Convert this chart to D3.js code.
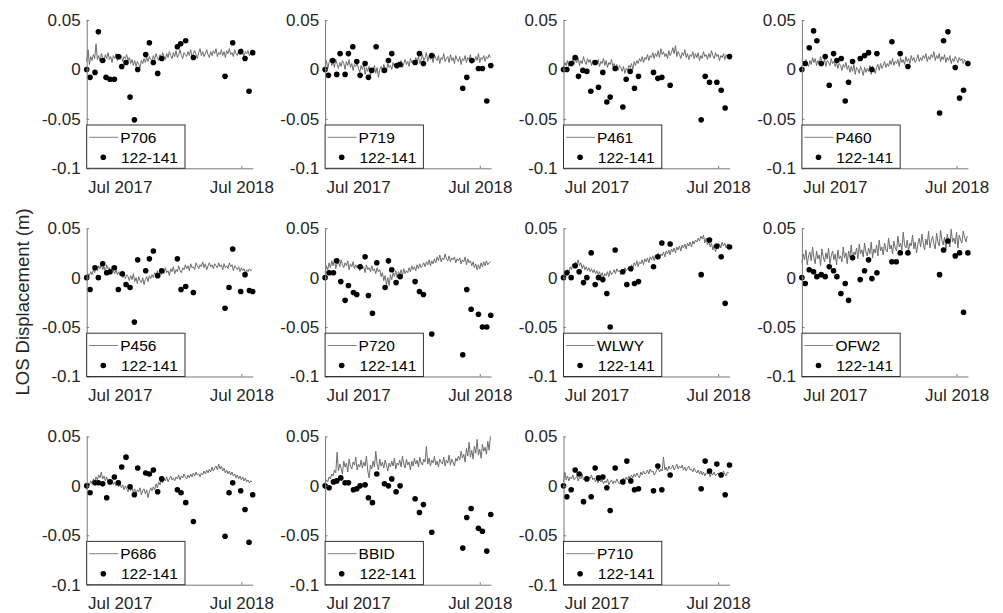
<!DOCTYPE html>
<html>
<head>
<meta charset="utf-8">
<script src="https://cdn.jsdelivr.net/npm/d3@7"></script>
<style>
  body { margin: 0; background: #fff; }
  svg { display: block; font-family: "Liberation Sans", Arial, Helvetica, sans-serif; }
</style>
</head>
<body>
<div id="chart"></div>
<script>
// stations, in subplot order
var stations = ["P706", "P719", "P461", "P460", "P456", "P720", "WLWY", "OFW2", "P686", "BBID", "P710"];
var trackName = "122-141";

// x: days after the first acquisition, y: displacement in mm
var startDate = new Date(2017, 2, 24);
var lastDay = 498;
var gpsStep = 4;  // one GPS value every 4 days

var yTicks = [-0.1, -0.05, 0, 0.05];
var xTicks = [new Date(2017, 6, 1), new Date(2018, 6, 1)];
var xTickLabels = ["Jul 2017", "Jul 2018"];

// GPS LOS series (mm), 25 values per line = 100 days
var gpsP706 = [8,20,5,13,9,15,11,26,10,14,8,16,12,9,15,11,17,10,13,7,14,11,16,9,12,
  10,14,8,13,11,15,9,12,6,10,4,9,3,8,5,2,9,6,11,7,12,8,13,10,9,
  14,10,16,12,9,15,11,17,13,10,16,12,18,14,11,17,13,19,12,15,20,14,11,17,15,
  13,18,14,20,12,16,19,15,11,17,21,14,18,13,16,20,15,12,18,14,19,16,21,13,17,
  15,20,14,18,12,19,16,21,15,17,13,20,16,14,19,15,21,17,13,18,16,19,14,17,16];
var gpsP719 = [3,9,1,7,11,4,8,2,10,5,1,7,3,9,6,0,8,4,10,2,6,-1,5,3,7,
  1,-3,4,0,6,-5,2,-2,3,-6,1,-1,4,-4,2,-8,0,3,-3,5,1,-2,6,2,4,
  0,7,3,5,1,8,4,9,2,6,10,5,8,3,11,7,9,5,12,8,13,6,10,15,9,
  12,17,8,14,10,13,7,15,11,9,14,6,12,10,16,8,11,13,7,15,9,12,6,14,10,
  8,13,5,11,9,14,7,12,10,15,6,11,8,13,9,16,7,12,10,14,8,13,11,15,12];
var gpsP461 = [2,7,4,9,3,8,6,11,5,10,7,12,4,9,6,13,8,5,11,7,10,4,9,6,8,
  5,10,3,8,6,11,4,9,2,7,5,10,3,6,1,5,-1,4,2,-2,3,-4,1,-1,4,
  2,6,0,8,4,9,6,11,8,13,7,12,10,15,9,14,12,17,11,16,13,19,12,21,15,
  18,13,16,11,19,14,17,22,16,24,13,18,15,11,17,14,20,12,16,10,15,13,18,11,16,
  12,17,9,14,11,18,13,15,10,16,12,19,14,11,17,13,15,9,14,12,16,10,15,13,12];
var gpsP460 = [2,8,4,10,6,3,9,5,12,7,11,4,9,6,13,8,5,10,3,9,7,4,11,6,8,
  3,7,1,6,4,-1,5,2,7,0,4,-3,3,-2,5,-5,2,0,-4,3,-1,-6,2,-3,1,
  -2,4,-5,3,0,-4,2,5,-1,6,1,4,8,2,6,3,9,5,11,4,8,6,10,3,12,
  7,10,5,13,8,11,6,14,9,12,7,10,15,8,12,9,14,11,16,8,13,10,15,12,18,
  9,14,11,16,8,13,10,15,7,12,9,14,6,11,8,13,10,7,12,9,11,6,10,8,7];
var gpsP456 = [1,4,2,6,3,8,5,10,7,12,9,14,8,11,6,13,9,10,5,11,7,4,8,3,6,
  2,5,0,4,-1,3,1,-3,2,-2,4,-4,0,-6,1,-3,-5,0,-7,-2,1,-4,2,-1,3,
  0,5,2,7,1,6,3,8,4,10,5,7,2,9,6,11,4,8,6,12,7,5,10,8,13,
  9,12,7,14,10,11,8,15,12,9,13,11,16,10,14,8,12,15,11,13,9,14,12,10,15,
  11,13,8,14,10,12,9,15,11,13,7,12,10,8,11,6,10,7,9,5,8,6,9,7,8];
var gpsP720 = [5,12,8,15,10,17,12,19,9,14,16,11,18,13,10,15,12,17,8,14,11,16,9,13,10,
  12,7,14,9,11,5,13,8,10,6,12,7,9,4,10,6,8,1,5,-3,2,-7,0,-8,3,
  -2,5,1,7,0,6,3,8,2,9,4,7,5,10,6,12,8,11,7,13,9,14,10,12,15,
  11,16,13,18,12,17,14,19,15,21,17,23,16,20,18,24,19,17,22,16,20,18,21,15,19,
  17,20,14,18,16,21,13,19,15,17,12,16,10,14,8,13,9,15,11,16,12,17,13,15,16];
var gpsWLWY = [2,6,3,8,5,11,8,14,10,16,13,18,12,15,9,13,8,11,7,10,6,9,5,8,4,
  7,3,6,1,5,0,4,2,6,1,7,3,5,8,4,9,6,7,3,8,5,10,7,9,11,
  8,13,10,15,12,17,11,16,14,18,13,19,16,20,15,21,18,22,17,23,20,25,19,24,22,
  26,21,27,24,28,23,29,26,30,25,31,28,32,27,33,30,34,29,35,32,36,31,37,34,38,
  36,40,37,42,39,43,35,40,33,37,31,35,28,33,26,31,29,34,30,36,32,35,30,34,33];
var gpsOFW2 = [15,24,18,28,13,22,26,17,31,20,14,27,19,23,12,29,21,16,25,19,30,14,22,27,18,
  24,13,28,19,22,16,31,20,25,14,27,21,33,18,26,23,30,19,34,24,28,21,35,26,22,
  30,24,36,20,29,25,33,22,38,27,31,23,35,28,26,40,29,33,24,37,30,27,42,31,35,
  28,46,33,30,38,27,35,32,43,29,36,25,34,40,31,44,35,28,39,33,47,30,37,42,34,
  29,45,36,32,48,38,33,41,28,44,37,31,49,36,40,34,46,30,43,38,35,47,41,36,42];
var gpsP686 = [0,3,1,5,2,7,4,9,6,11,8,14,7,10,5,9,4,7,2,6,1,4,0,3,-1,
  2,-2,1,-4,0,-3,-6,-1,-5,-2,-7,-3,-8,-4,-6,-2,-9,-5,-3,-8,-4,-12,-6,-2,-5,
  -1,-4,2,-2,4,1,6,3,8,5,9,4,7,10,6,8,5,9,7,11,6,10,8,12,9,
  7,11,8,12,9,13,10,14,11,12,9,13,11,15,12,16,13,17,14,19,15,18,20,16,22,
  17,20,15,18,13,16,12,15,11,14,10,12,8,11,7,10,6,9,5,8,4,6,3,5,4];
var gpsBBID = [3,6,4,9,7,12,10,16,13,34,15,22,18,12,25,19,23,14,27,20,17,24,21,29,16,
  22,19,26,18,24,20,30,15,8,21,17,25,19,35,22,16,27,20,24,18,26,21,15,23,19,
  25,20,28,17,23,21,26,19,30,22,18,27,21,24,16,25,20,28,22,26,19,29,23,21,27,
  24,40,22,28,20,26,23,30,21,25,19,27,24,22,29,20,26,23,31,21,27,24,20,28,25,
  30,26,35,28,32,24,38,30,44,29,36,27,40,33,47,31,37,28,42,35,39,32,45,36,50];
var gpsP710 = [4,14,6,10,5,9,7,11,6,8,10,5,9,7,12,6,8,10,5,9,7,11,6,8,4,
  7,3,8,4,6,2,5,3,7,1,4,6,2,5,3,7,4,2,6,3,8,5,9,6,10,
  7,11,8,12,9,13,10,8,14,11,15,12,13,16,12,17,14,15,11,13,16,18,14,17,15,
  29,16,19,15,20,17,18,21,16,19,22,17,20,18,21,16,19,15,18,20,16,17,14,18,15,
  13,16,12,15,11,14,10,13,12,15,9,13,11,14,10,12,13,9,14,11,15,12,10,14,13];

// InSAR track 122-141 points: [day, mm]
var insarP706 = [[0,0],[10,-8],[25,-3],[35,38],[48,9],[58,-8],[70,-10],[83,-10],[95,13],[105,3],[118,7],[130,-28],[143,-51],[153,0],[177,15],[188,27],[200,7],[213,-4],[225,11],[272,23],[282,26],[297,29],[320,12],[415,-7],[438,27],[462,18],[475,11],[487,-22],[498,17]];
var insarP719 = [[0,0],[10,-6],[23,9],[35,-5],[45,16],[60,-5],[70,16],[83,23],[95,8],[105,-6],[120,6],[130,-8],[140,-1],[153,23],[178,-1],[190,9],[200,16],[215,4],[225,5],[270,7],[283,16],[295,6],[320,14],[413,-19],[425,-8],[440,9],[460,1],[472,1],[485,-32],[497,4]];
var insarP461 = [[0,0],[10,0],[23,6],[35,12],[45,-7],[58,-1],[70,-2],[82,-22],[95,7],[105,-18],[118,-3],[130,-33],[140,-28],[155,1],[178,-38],[188,-10],[200,-2],[213,-19],[225,-7],[270,-3],[283,-9],[295,-8],[320,-16],[413,-51],[425,-7],[438,-13],[460,-13],[473,-21],[485,-39],[498,13]];
var insarP460 = [[0,0],[10,6],[22,22],[35,39],[45,29],[58,6],[70,13],[82,-16],[95,16],[105,9],[118,11],[130,-32],[140,-13],[152,8],[175,11],[188,14],[200,17],[210,0],[225,16],[270,28],[295,16],[318,3],[413,-44],[425,29],[438,38],[460,2],[473,-29],[485,-21],[498,6]];
var insarP456 = [[0,0],[10,-12],[25,10],[35,0],[48,14],[60,5],[70,6],[83,10],[95,-12],[107,4],[118,-7],[130,-10],[143,-45],[153,18],[177,7],[188,19],[200,27],[213,2],[225,7],[272,19],[283,-12],[297,-9],[320,-15],[415,-31],[427,-10],[438,29],[462,-14],[475,3],[488,-13],[498,-14]];
var insarP720 = [[0,0],[12,5],[25,5],[35,17],[47,-4],[60,-23],[70,-8],[85,-15],[95,-17],[105,11],[120,21],[130,-18],[142,-36],[155,15],[180,-10],[190,17],[200,8],[213,-5],[225,1],[270,-4],[283,-14],[295,-17],[320,-57],[413,-78],[425,-12],[438,-32],[460,-37],[472,-50],[485,-50],[497,-38]];
var insarWLWY = [[0,0],[10,5],[23,0],[35,12],[47,6],[60,-5],[70,0],[83,25],[95,-7],[105,0],[118,-2],[130,-16],[140,-50],[155,28],[178,6],[190,-7],[202,9],[213,-6],[225,-4],[270,11],[283,21],[295,35],[320,34],[413,3],[438,38],[460,32],[473,21],[485,-26],[498,31]];
var insarOFW2 = [[0,0],[10,-6],[22,8],[35,6],[45,1],[58,3],[70,1],[82,11],[95,7],[105,1],[117,-16],[130,-6],[140,-23],[152,20],[175,-2],[188,7],[200,18],[210,-1],[225,5],[270,16],[283,16],[295,25],[318,25],[413,3],[425,28],[438,37],[460,22],[473,25],[485,-35],[498,25]];
var insarP686 = [[0,0],[10,-7],[25,3],[35,3],[48,2],[60,-12],[70,4],[83,9],[95,3],[105,19],[118,29],[130,-1],[143,-9],[153,18],[177,13],[188,12],[200,16],[213,-6],[225,7],[272,-4],[283,-7],[297,-17],[320,-36],[415,-51],[427,-7],[438,3],[462,-5],[475,-24],[487,-57],[498,-9]];
var insarBBID = [[0,0],[12,-2],[25,4],[35,5],[47,8],[60,3],[70,3],[85,-4],[95,-3],[105,0],[120,1],[130,-12],[142,-17],[155,12],[178,2],[190,0],[200,7],[213,-6],[225,0],[270,-13],[283,-27],[295,-19],[320,-47],[413,-63],[425,-32],[438,-23],[460,-43],[472,-46],[485,-66],[497,-29]];
var insarP710 = [[0,0],[10,-11],[23,-4],[35,16],[47,12],[60,-16],[70,7],[83,-11],[95,18],[105,8],[118,9],[130,-2],[140,-25],[155,18],[178,4],[190,25],[202,5],[213,-4],[225,-3],[270,-5],[283,20],[295,-4],[320,11],[413,-3],[425,25],[438,15],[460,22],[473,11],[485,-9],[498,21]];

var gpsSeries = [gpsP706, gpsP719, gpsP461, gpsP460, gpsP456, gpsP720, gpsWLWY, gpsOFW2, gpsP686, gpsBBID, gpsP710];
var insarSeries = [insarP706, insarP719, insarP461, insarP460, insarP456, insarP720, insarWLWY, insarOFW2, insarP686, insarBBID, insarP710];

// layout
var W = 1003, H = 613;
var ncol = 4;
var left0 = 86.7, colStep = 238.4, pw = 166;
var top0 = 20, rowStep = 208.2, ph = 148.3;
var textColor = "#262626";

var svg = d3.select("#chart").append("svg")
  .attr("width", W)
  .attr("height", H);

svg.append("rect").attr("width", W).attr("height", H).attr("fill", "#fff");

var x = d3.scaleTime()
  .domain([startDate, d3.timeDay.offset(startDate, lastDay)])
  .range([0, pw]);
var y = d3.scaleLinear()
  .domain([-0.1, 0.05])
  .range([ph, 0]);

function dayDate(d) { return d3.timeDay.offset(startDate, d); }

var line = d3.line()
  .x(function(d, i){ return x(dayDate(i * gpsStep)); })
  .y(function(d){ return y(d / 1000); });

stations.forEach(function(name, k){
  var col = k % ncol, row = Math.floor(k / ncol);
  var g = svg.append("g")
    .attr("transform", "translate(" + (left0 + col * colStep) + "," + (top0 + row * rowStep) + ")");

  // gps line
  g.append("path")
    .datum(gpsSeries[k])
    .attr("d", line)
    .attr("fill", "none")
    .attr("stroke", "#6c6c6c")
    .attr("stroke-width", 1)
    .attr("stroke-linejoin", "round");

  // insar dots
  g.selectAll("circle.sar")
    .data(insarSeries[k])
    .enter()
    .append("circle")
    .attr("class", "sar")
    .attr("cx", function(d){ return x(dayDate(d[0])); })
    .attr("cy", function(d){ return y(d[1] / 1000); })
    .attr("r", 2.8)
    .attr("fill", "#000");

  // axes (ticks point inward like matlab)
  var ya = g.append("g")
    .call(d3.axisLeft(y)
      .tickValues(yTicks)
      .tickFormat(function(d){ return d === 0 ? "0" : String(d); })
      .tickSizeInner(-2.5)
      .tickSizeOuter(0)
      .tickPadding(6));
  var xa = g.append("g")
    .attr("transform", "translate(0," + ph + ")")
    .call(d3.axisBottom(x)
      .tickValues(xTicks)
      .tickFormat(function(d, i){ return xTickLabels[i]; })
      .tickSizeInner(-2.5)
      .tickSizeOuter(0)
      .tickPadding(12.5));
  [ya, xa].forEach(function(a){
    a.select(".domain").attr("stroke", "#777").attr("stroke-width", 1);
    a.selectAll(".tick line").attr("stroke", "#777");
    a.selectAll(".tick text")
      .attr("fill", textColor)
      .style("font-size", "17px")
      .style("font-family", "'Liberation Sans', Arial, sans-serif");
  });

  // legend, bottom-left corner
  var lg = g.append("g").attr("transform", "translate(0," + (ph - 43.3) + ")");
  lg.append("rect")
    .attr("width", 98.3)
    .attr("height", 43.3)
    .attr("fill", "#fff")
    .attr("stroke", "#333")
    .attr("stroke-width", 1);
  lg.append("line")
    .attr("x1", 2.5).attr("x2", 31.5)
    .attr("y1", 12.3).attr("y2", 12.3)
    .attr("stroke", "#808080")
    .attr("stroke-width", 1);
  lg.append("text")
    .attr("x", 33.5).attr("y", 12.3)
    .attr("dominant-baseline", "central")
    .attr("fill", "#000")
    .style("font-size", "15.5px")
    .text(name);
  lg.append("circle")
    .attr("cx", 16.6).attr("cy", 32.3)
    .attr("r", 2.8)
    .attr("fill", "#000");
  lg.append("text")
    .attr("x", 34.3).attr("y", 32.3)
    .attr("dominant-baseline", "central")
    .attr("fill", "#000")
    .style("font-size", "15.5px")
    .text(trackName);
});

// shared y label
svg.append("text")
  .attr("transform", "translate(22,302) rotate(-90)")
  .attr("text-anchor", "middle")
  .attr("dominant-baseline", "central")
  .attr("fill", textColor)
  .style("font-size", "18.5px")
  .text("LOS Displacement (m)");
</script>
</body>
</html>
